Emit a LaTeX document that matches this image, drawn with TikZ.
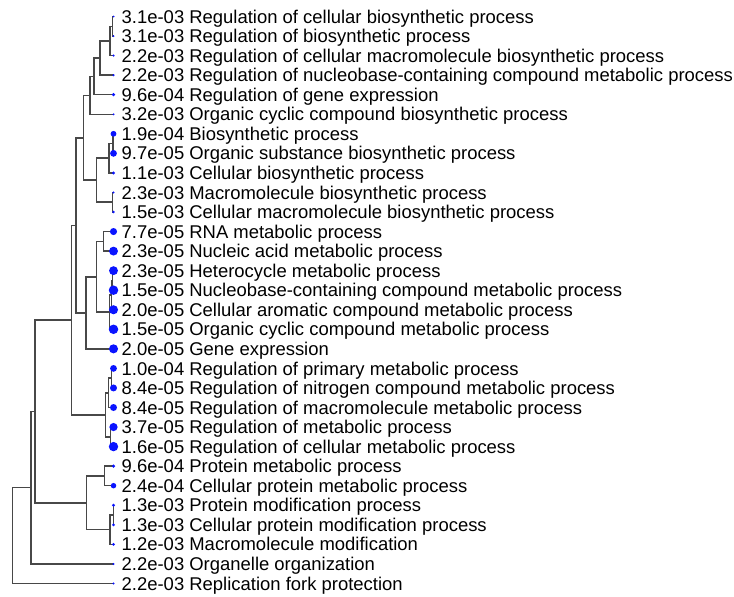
\documentclass[tikz,border=0pt]{standalone}
\usepackage{fontspec}
\setmainfont{Liberation Sans}
\definecolor{linegray}{RGB}{72,72,72}
\definecolor{dotblue}{RGB}{10,20,255}
\begin{document}
\begin{tikzpicture}[x=1pt,y=-1pt,
  br/.style={draw=linegray,line width=1.5pt},
  leafdot/.style={circle,fill=dotblue,inner sep=0pt,minimum size=#1},
  lab/.style={anchor=base west,inner sep=0pt,font=\fontsize{18.45}{20}\selectfont,text=black}]
\useasboundingbox (0,0) rectangle (734,597);
% leaf coordinates
\foreach \i in {1,...,30}{
  \coordinate (l\i) at (113.5,{16.5+(\i-1)*19.55});
}
% internal nodes of the dendrogram
\coordinate (a1) at (112.7,26.28);
\coordinate (a2) at (110,40.94);
\coordinate (a3) at (100,58.04);
\coordinate (a4) at (94,76.37);
\coordinate (nA) at (90,95.31);
\coordinate (b1) at (113,143.58);
\coordinate (b2) at (109,158.24);
\coordinate (b3) at (112.7,202.23);
\coordinate (nB) at (96.7,180.23);
\coordinate (t1) at (83.3,137.77);
\coordinate (c1) at (103.3,241.33);
\coordinate (c2) at (112.5,280.43);
\coordinate (c3) at (111.5,295.09);
\coordinate (c4) at (109.5,312.19);
\coordinate (nC) at (96.7,276.76);
\coordinate (nC2) at (86,312.81);
\coordinate (t2) at (76,225.29);
\coordinate (d1) at (111.7,378.18);
\coordinate (d2) at (108.3,392.84);
\coordinate (d3) at (110.5,436.83);
\coordinate (nD) at (105.5,414.83);
\coordinate (t3) at (71.7,320.06);
\coordinate (e1) at (104.3,475.93);
\coordinate (e2) at (113.3,515.03);
\coordinate (e3) at (110,529.69);
\coordinate (nE) at (86.7,502.81);
\coordinate (t4) at (35,411.44);
\coordinate (t5) at (31,487.67);
\coordinate (root) at (12.7,535.56);
% connectors parent -> child
\foreach \p/\c in {a1/l1,a1/l2,a2/a1,a2/l3,a3/a2,a3/l4,a4/a3,a4/l5,nA/a4,nA/l6,
  b1/l7,b1/l8,b2/b1,b2/l9,b3/l10,b3/l11,nB/b2,nB/b3,t1/nA,t1/nB,
  c1/l12,c1/l13,c2/l14,c2/l15,c3/c2,c3/l16,c4/c3,c4/l17,nC/c1,nC/c4,
  nC2/nC,nC2/l18,t2/t1,t2/nC2,
  d1/l19,d1/l20,d2/d1,d2/l21,d3/l22,d3/l23,nD/d2,nD/d3,t3/t2,t3/nD,
  e1/l24,e1/l25,e2/l26,e2/l27,e3/e2,e3/l28,nE/e1,nE/e3,
  t4/t3,t4/nE,t5/t4,t5/l29,root/t5,root/l30}{
  \draw[br] (\p) |- (\c);
}
% leaf dots and labels
\foreach \i/\d/\t in {
 1/2.0/{3.1e-03 Regulation of cellular biosynthetic process},
 2/2.0/{3.1e-03 Regulation of biosynthetic process},
 3/2.3/{2.2e-03 Regulation of cellular macromolecule biosynthetic process},
 4/2.3/{2.2e-03 Regulation of nucleobase-containing compound metabolic process},
 5/3.5/{9.6e-04 Regulation of gene expression},
 6/2.0/{3.2e-03 Organic cyclic compound biosynthetic process},
 7/5.8/{1.9e-04 Biosynthetic process},
 8/6.8/{9.7e-05 Organic substance biosynthetic process},
 9/3.3/{1.1e-03 Cellular biosynthetic process},
 10/2.3/{2.3e-03 Macromolecule biosynthetic process},
 11/2.9/{1.5e-03 Cellular macromolecule biosynthetic process},
 12/7.1/{7.7e-05 RNA metabolic process},
 13/8.9/{2.3e-05 Nucleic acid metabolic process},
 14/8.9/{2.3e-05 Heterocycle metabolic process},
 15/9.5/{1.5e-05 Nucleobase-containing compound metabolic process},
 16/9.1/{2.0e-05 Cellular aromatic compound metabolic process},
 17/9.5/{1.5e-05 Organic cyclic compound metabolic process},
 18/9.1/{2.0e-05 Gene expression},
 19/6.8/{1.0e-04 Regulation of primary metabolic process},
 20/7.0/{8.4e-05 Regulation of nitrogen compound metabolic process},
 21/7.0/{8.4e-05 Regulation of macromolecule metabolic process},
 22/8.2/{3.7e-05 Regulation of metabolic process},
 23/9.4/{1.6e-05 Regulation of cellular metabolic process},
 24/3.5/{9.6e-04 Protein metabolic process},
 25/5.5/{2.4e-04 Cellular protein metabolic process},
 26/3.1/{1.3e-03 Protein modification process},
 27/3.1/{1.3e-03 Cellular protein modification process},
 28/3.2/{1.2e-03 Macromolecule modification},
 29/2.3/{2.2e-03 Organelle organization},
 30/2.3/{2.2e-03 Replication fork protection}}{
  \node[leafdot=\d pt] (dot\i) at (l\i) {};
  \node[lab] (lab\i) at ([xshift=8pt,yshift=-6.6pt]l\i) {\t};
}
\end{tikzpicture}
\end{document}
